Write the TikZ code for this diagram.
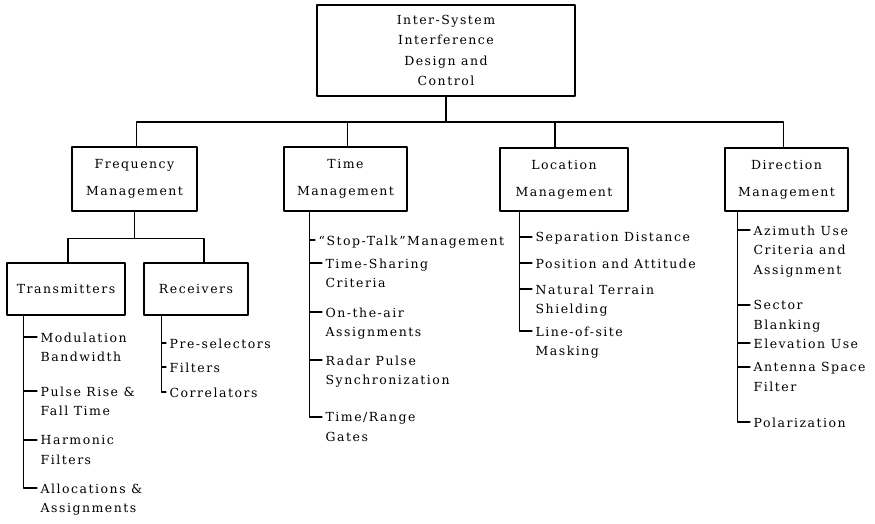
\documentclass[tikz,border=0pt]{standalone}
\usepackage{fontspec}
\setmainfont{DejaVu Serif}[LetterSpace=12]
\begin{document}
\begin{tikzpicture}[x=1pt, y=-1pt, line width=1.3pt, line join=round, line cap=round,
    font=\fontsize{12.5}{19.5}\selectfont,
    box/.style={draw, align=center, inner sep=0pt},
    item/.style={anchor=north west, align=left, inner xsep=3pt, inner ysep=0pt}]
    \useasboundingbox (0,0) rectangle (875,524);
    \node[box, minimum width=258, minimum height=91] (isi) at (446,50.5) {Inter-System\\[1pt]Interference\\[1pt]Design and\\[1pt]Control};
    \node[box, minimum width=125, minimum height=64] (freq) at (134.5,179) {Frequency\\[7.5pt]Management};
    \node[box, minimum width=123, minimum height=64] (time) at (345.5,179) {Time\\[7.5pt]Management};
    \node[box, minimum width=128, minimum height=63] (loc) at (564,179.5) {Location\\[7.5pt]Management};
    \node[box, minimum width=123, minimum height=63] (dir) at (786.5,179.5) {Direction\\[7.5pt]Management};
    \node[box, minimum width=118, minimum height=52] (tx) at (66,289) {Transmitters};
    \node[box, minimum width=104, minimum height=52] (rx) at (196,289) {Receivers};
    \coordinate (bus) at (446,122);
    \draw (isi.south) -- (bus);
    \foreach \n/\dx in {freq/2,time/2,loc/-9,dir/-3}\draw (bus) -| ([xshift=\dx]\n.north);
    \draw (freq.south) -- ++(0,27) coordinate (fbus);
    \foreach \n/\dx in {tx/2,rx/8}\draw (fbus) -| ([xshift=\dx]\n.north);
    \foreach \n/\y/\t in {tx1/337/{Modulation\\Bandwidth},tx2/391/{Pulse Rise \&\\Fall Time},tx3/440/{Harmonic\\Filters},tx4/488/{Allocations \&\\Assignments}}{
        \node[item] (\n) at (37,\y-5) {\t};
        \draw ([xshift=17]tx.south west) |- ([yshift=-5]\n.north west);}
    \foreach \n/\y/\t in {rx1/343/Pre-selectors,rx2/367/Filters,rx3/392/Correlators}{
        \node[item] (\n) at (166,\y-5) {\t};
        \draw ([xshift=18]rx.south west) |- ([yshift=-5]\n.north west);}
    \foreach \n/\x/\y/\t in {tm1/315/240/{“Stop-Talk”Management},tm2/322/263/{Time-Sharing\\Criteria},tm3/322/312/{On-the-air\\Assignments},tm4/322/360/{Radar Pulse\\Synchronization},tm5/322/417/{Time/Range\\Gates}}{
        \node[item] (\n) at (\x,\y-5) {\t};
        \draw ([xshift=26]time.south west) |- ([yshift=-5]\n.north west);}
    \foreach \n/\y/\t in {lc1/237/{Separation Distance},lc2/263/{Position and Attitude},lc3/289/{Natural Terrain\\Shielding},lc4/331/{Line-of-site\\Masking}}{
        \node[item] (\n) at (532,\y-5) {\t};
        \draw ([xshift=20]loc.south west) |- ([yshift=-5]\n.north west);}
    \foreach \n/\y/\t in {dr1/230/{Azimuth Use\\Criteria and\\Assignment},dr2/305/{Sector\\Blanking},dr3/343/{Elevation Use},dr4/367/{Antenna Space\\Filter},dr5/422/Polarization}{
        \node[item] (\n) at (750,\y-5) {\t};
        \draw ([xshift=13]dir.south west) |- ([yshift=-5]\n.north west);}
\end{tikzpicture}
\end{document}
